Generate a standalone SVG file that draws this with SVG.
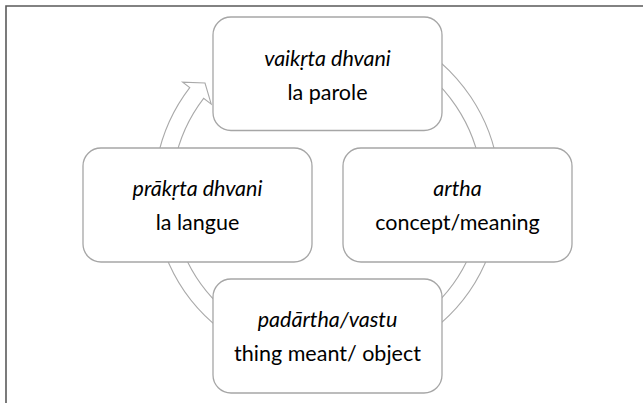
<svg xmlns="http://www.w3.org/2000/svg" width="643" height="403" viewBox="0 0 643 403">
<style>
.box{fill:#fff;stroke:#a6a6a6;stroke-width:1.3}
.ring{fill:#fff;stroke:#a9a9a9;stroke-width:1.1;stroke-linejoin:miter}
text{font-family:Lato,"Noto Sans","Open Sans",sans-serif;font-size:21.5px;fill:#000;text-anchor:middle}
.it{font-style:italic}
.frame{stroke:#5a5a5a;stroke-width:1.6;fill:none}
</style>
<rect width="643" height="403" fill="#fff"/>
<path class="frame" d="M6,403 V6 H643"/>
<g id="connectors">
<path class="ring" d="M240.5,43.2 A173,173 0 1 1 189.74,87.68 L182.6,82.2 L205,83 L211.2,104.1 L203.63,98.33 A155.5,155.5 0 1 0 249.25,58.3 Z"/>
</g>
<g id="node-vaikrta">
<rect class="box" x="213" y="17" width="229" height="113.5" rx="18"/>
<text class="it" x="327.5" y="66">vaikṛta dhvani</text>
<text x="327.5" y="100">la parole</text>
</g>
<g id="node-prakrta">
<rect class="box" x="83" y="148" width="229" height="114" rx="18"/>
<text class="it" x="197.5" y="196">prākṛta dhvani</text>
<text x="197.5" y="230">la langue</text>
</g>
<g id="node-artha">
<rect class="box" x="343" y="148" width="229" height="114" rx="18"/>
<text class="it" x="457.5" y="196">artha</text>
<text x="457.5" y="230">concept/meaning</text>
</g>
<g id="node-padartha">
<rect class="box" x="213" y="279" width="229" height="114" rx="18"/>
<text class="it" x="327.5" y="327">padārtha/vastu</text>
<text x="327.5" y="361">thing meant/ object</text>
</g>
</svg>
